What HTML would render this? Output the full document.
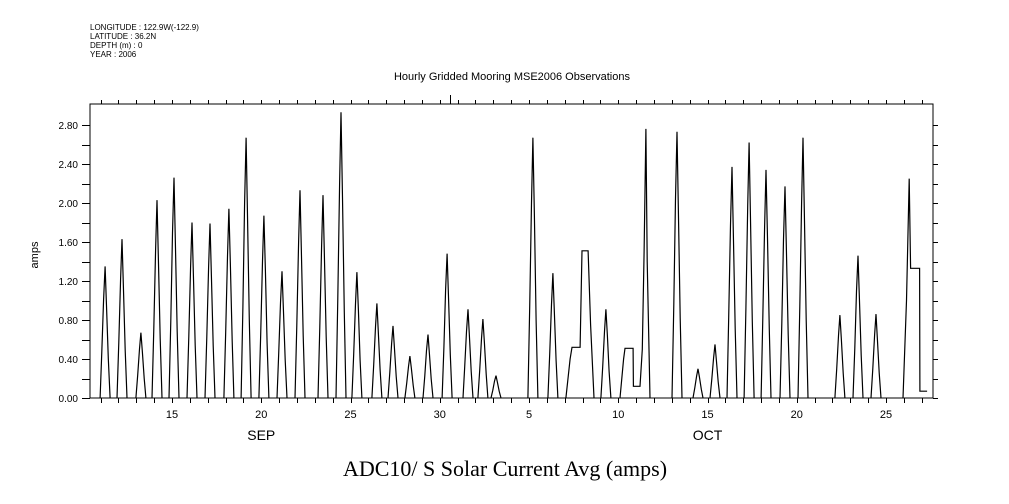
<!DOCTYPE html>
<html><head><meta charset="utf-8"><style>
body{margin:0;background:#fff}
svg{display:block}
text{font-family:"Liberation Sans",sans-serif;fill:#000}
</style></head><body>
<svg id="chart" width="1009" height="504" viewBox="0 0 1009 504" xmlns="http://www.w3.org/2000/svg">
<g font-size="8">
<text x="90" y="30">LONGITUDE : 122.9W(-122.9)</text>
<text x="90" y="39">LATITUDE : 36.2N</text>
<text x="90" y="48">DEPTH (m) : 0</text>
<text x="90" y="57">YEAR : 2006</text>
</g>
<text x="512" y="80" font-size="11" text-anchor="middle">Hourly Gridded Mooring MSE2006 Observations</text>
<text x="0" y="0" font-size="11" text-anchor="middle" transform="translate(38,255) rotate(-90)">amps</text>
<text x="505" y="476" font-size="22" text-anchor="middle" style="font-family:'Liberation Serif',serif">ADC10/ S Solar Current Avg (amps)</text>
<g id="axes"></g>
<g id="marks"></g>
</svg>
<script>
const peakDays=[11.25,12.20,13.26,14.16,15.11,16.12,17.13,18.19,19.15,20.15,21.16,22.17,23.46,24.47,25.36,26.48,27.38,28.33,29.34,30.41,31.58,32.42,33.15,35.22,36.34,39.31,43.29,44.47,45.42,46.37,47.33,48.28,49.34,50.35,52.42,53.43,54.44];
const peakVals=[1.35,1.63,0.67,2.03,2.26,1.80,1.79,1.94,2.67,1.87,1.30,2.13,2.08,2.93,1.29,0.97,0.74,0.43,0.65,1.48,0.91,0.81,0.23,2.67,1.28,0.91,2.73,0.30,0.55,2.37,2.62,2.34,2.17,2.67,0.85,1.46,0.86];
const extraSegments=[
 [[37.07,0],[37.3,0.4],[37.41,0.52],[37.86,0.52],[37.97,1.51],[38.31,1.51],[38.45,0.75],[38.64,0]],
 [[40.1,0],[40.3,0.4],[40.38,0.51],[40.83,0.51],[40.85,0.12],[41.22,0.12],[41.35,0.5],[41.45,1.5],[41.55,2.76],[41.62,1.4],[41.78,0]],
 [[55.95,0],[56.15,1.0],[56.3,2.25],[56.38,1.33],[56.88,1.33],[56.9,0.07],[57.3,0.07]]
];
const yTicks=[0,0.4,0.8,1.2,1.6,2.0,2.4,2.8];
const yTickLabels=["0.00","0.40","0.80","1.20","1.60","2.00","2.40","2.80"];
const xTickDays=[15,20,25,30,35,40,45,50,55];
const xTickLabels=["15","20","25","30","5","10","15","20","25"];
const monthDays=[20,45];
const monthLabels=["SEP","OCT"];

const L=90,R=933,T=104,B=398;
const xs=d=>172+(d-15)*17.85;
const ys=v=>B-v*97.5;
const NS="http://www.w3.org/2000/svg";
const axes=document.getElementById('axes'),marks=document.getElementById('marks');
function mk(tag,at,parent){const e=document.createElementNS(NS,tag);for(const k in at)e.setAttribute(k,at[k]);parent.appendChild(e);return e;}
const frame=mk('rect',{x:L,y:T,width:R-L,height:B-T,fill:'none',stroke:'#000','stroke-width':1},axes);


let tp='';
for(let d=11;d<=57;d++){const x=Math.round(xs(d))+0.5;tp+=`M${x} ${T}V${T-4}M${x} ${B}V${B+5}`;}
for(let v=0;v<=2.81;v+=0.2){const y=Math.round(ys(v))+0.5;tp+=`M${L} ${y}H${L-8}M${R} ${y}H${R+5}`;}
tp+=`M450.5 ${T}V${T-9}`;
const ticks=mk('path',{d:tp,stroke:'#000','stroke-width':1,fill:'none'},axes);


yTicks.forEach((v,i)=>{const t=mk('text',{x:L-12,y:ys(v)+4,'font-size':10,'text-anchor':'end'},axes);t.textContent=yTickLabels[i];

});
xTickDays.forEach((d,i)=>{const t=mk('text',{x:xs(d),y:418,'font-size':11,'text-anchor':'middle'},axes);t.textContent=xTickLabels[i];

});
monthDays.forEach((d,i)=>{const t=mk('text',{x:xs(d),y:440,'font-size':14,'text-anchor':'middle'},axes);t.textContent=monthLabels[i];

});
let p='';
peakDays.forEach((c,i)=>{const v=peakVals[i];
 const pts=[[c-0.28,0],[c-0.18,0.35*v],[c-0.08,0.75*v],[c,v],[c+0.08,0.7*v],[c+0.18,0.3*v],[c+0.28,0]];
 p+='M'+pts.map(q=>xs(q[0]).toFixed(1)+' '+ys(q[1]).toFixed(1)).join('L');});
extraSegments.forEach(seg=>{p+='M'+seg.map(q=>xs(q[0]).toFixed(1)+' '+ys(q[1]).toFixed(1)).join('L');});
const line=mk('path',{d:p,stroke:'#000','stroke-width':1.2,fill:'none'},marks);


</script>
</body></html>
